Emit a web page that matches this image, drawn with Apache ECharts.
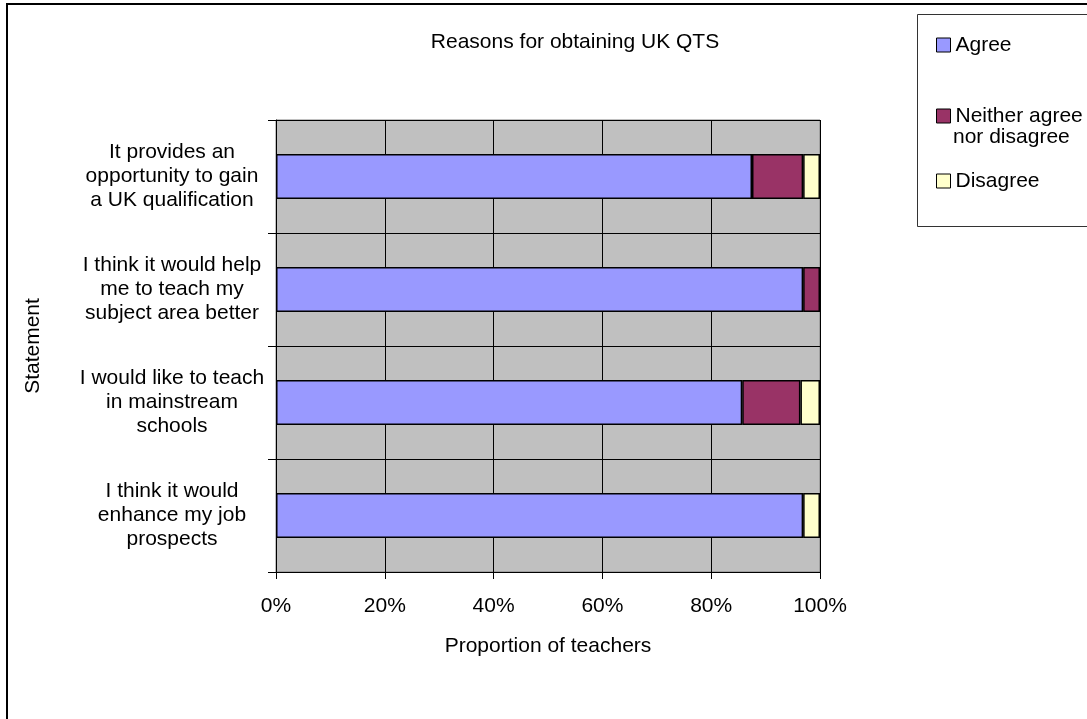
<!DOCTYPE html>
<html>
<head>
<meta charset="utf-8">
<script src="https://cdn.jsdelivr.net/npm/echarts@6/dist/echarts.min.js"></script>
<style>
html,body{margin:0;padding:0;background:#fff;}
#chart{width:1087px;height:719px;}
</style>
</head>
<body>
<div id="chart"></div>
<script>
const categories = [
  "It provides an\nopportunity to gain\na UK qualification",
  "I think it would help\nme to teach my\nsubject area better",
  "I would like to teach\nin mainstream\nschools",
  "I think it would\nenhance my job\nprospects"
];
const seriesNames = ["Agree", "Neither agree nor disagree", "Disagree"];
const agree = [87.5, 96.9, 85.7, 96.9];
const neither = [9.4, 3.1, 10.7, 0];
const disagree = [3.1, 0, 3.6, 3.1];
const xTicks = [0, 20, 40, 60, 80, 100];
const colors = ["#9999FF", "#993366", "#FFFFCC"];

const FONT = "'Liberation Sans', Arial, sans-serif";
const FS = 21;
const chart = echarts.init(document.getElementById('chart'));
const seriesData = [agree, neither, disagree];

const series = seriesData.map((arr, i) => ({
  name: seriesNames[i],
  type: 'bar',
  stack: 'total',
  barWidth: '40%',
  data: arr.map(v => v === 0 ? '-' : v),
  itemStyle: { color: colors[i], borderColor: '#000', borderWidth: 1.5 },
  emphasis: { disabled: true },
  z: 3
}));

function legendAt(name, top, fmt) {
  return {
    data: [name],
    left: 931,
    top: top,
    orient: 'vertical',
    icon: 'rect',
    itemWidth: 14,
    itemHeight: 14,
    itemStyle: { borderColor: '#000', borderWidth: 1 },
    textStyle: { fontFamily: FONT, fontSize: FS, color: '#000', lineHeight: 24 },
    formatter: fmt || (n => n),
    selectedMode: false
  };
}

const option = {
  animation: false,
  backgroundColor: '#fff',
  title: {
    text: 'Reasons for obtaining UK QTS',
    left: 570,
    top: 27,
    textAlign: 'center',
    textStyle: { fontFamily: FONT, fontSize: FS, fontWeight: 'normal', color: '#000' }
  },
  legend: [
    legendAt('Agree', 28),
    legendAt('Neither agree nor disagree', 99, () => 'Neither agree'),
    legendAt('Disagree', 164)
  ],
  grid: {
    left: 276, right: 267, top: 120, bottom: 147,
    show: true, backgroundColor: '#C0C0C0', borderColor: '#808080', borderWidth: 1,
    containLabel: false
  },
  xAxis: {
    type: 'value',
    min: 0, max: 100, interval: 20,
    name: 'Proportion of teachers',
    nameLocation: 'middle',
    nameGap: 62,
    nameTextStyle: { fontFamily: FONT, fontSize: FS, color: '#000', lineHeight: 24 },
    axisLine: { show: true, lineStyle: { color: '#000', width: 1 } },
    axisTick: { show: true, length: 7, lineStyle: { color: '#000' } },
    axisLabel: {
      formatter: v => xTicks.includes(v) ? v + '%' : '',
      margin: 22,
      fontFamily: FONT, fontSize: FS, color: '#000', lineHeight: 24
    },
    splitLine: { show: true, lineStyle: { color: '#000', width: 1 } }
  },
  yAxis: {
    type: 'category',
    inverse: true,
    data: categories,
    name: 'Statement',
    nameLocation: 'middle',
    nameGap: 232,
    nameRotate: 90,
    nameTextStyle: { fontFamily: FONT, fontSize: FS, color: '#000' },
    axisLine: { show: true, lineStyle: { color: '#000', width: 1 } },
    axisTick: { show: true, length: 8, lineStyle: { color: '#000' } },
    axisLabel: {
      margin: 104,
      align: 'center',
      fontFamily: FONT, fontSize: FS, color: '#000', lineHeight: 24
    },
    splitLine: { show: true, lineStyle: { color: '#000', width: 1 } }
  },
  graphic: [
    { type: 'rect', silent: true, z: -10, shape: { x: 7, y: 4, width: 1200, height: 900 },
      style: { fill: 'none', stroke: '#000', lineWidth: 2 } },
    { type: 'rect', silent: true, z: -5, shape: { x: 917.5, y: 14.5, width: 300, height: 212 },
      style: { fill: '#fff', stroke: '#333', lineWidth: 1 } },
    { type: 'text', silent: true, z: 10, left: 953, top: 125,
      style: { text: 'nor disagree', font: FS + 'px ' + FONT, fill: '#000', lineHeight: 24 } }
  ],
  series: series
};
chart.setOption(option);
</script>
</body>
</html>
